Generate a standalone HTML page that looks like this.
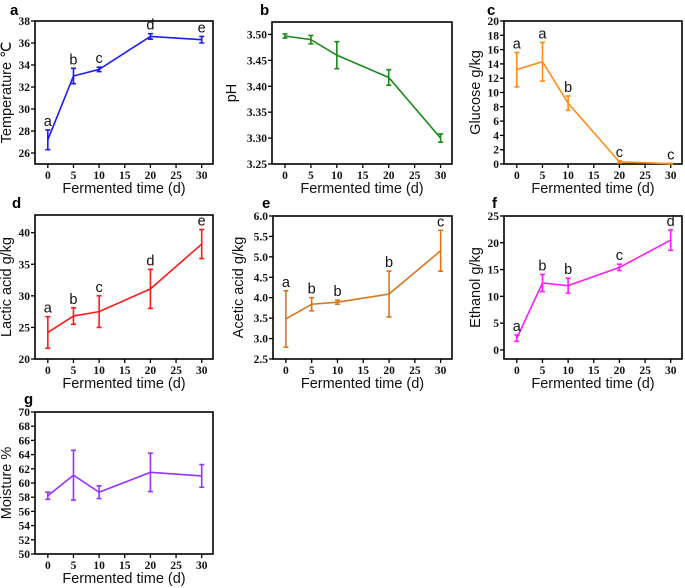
<!DOCTYPE html>
<html><head><meta charset="utf-8"><style>
body{margin:0;background:#fff}
svg{display:block}
</style></head><body>
<svg id="fig" width="685" height="588" viewBox="0 0 685 588"></svg>
<script>
const days=[0,5,10,20,30];
const xTicks=[0,5,10,15,20,25,30];
const tempVals=[27.2,33.0,33.6,36.6,36.3];
const tempErr=[0.9,0.7,0.2,0.25,0.3];
const tempLetters=["a","b","c","d","e"];
const tempTicks=[26,28,30,32,34,36,38];
const phVals=[3.497,3.490,3.460,3.417,3.300];
const phErr=[0.004,0.008,0.026,0.015,0.008];
const phTicks=["3.25","3.30","3.35","3.40","3.45","3.50"];
const gluVals=[13.2,14.3,8.5,0.3,0.05];
const gluErr=[2.4,2.7,1.0,0.15,0.05];
const gluLetters=["a","a","b","c","c"];
const gluTicks=[0,2,4,6,8,10,12,14,16,18,20];
const lacVals=[24.2,26.8,27.5,31.1,38.2];
const lacErr=[2.5,1.3,2.5,3.1,2.3];
const lacLetters=["a","b","c","d","e"];
const lacTicks=[20,25,30,35,40];
const aceVals=[3.48,3.84,3.89,4.09,5.15];
const aceErr=[0.69,0.16,0.05,0.56,0.5];
const aceLetters=["a","b","b","b","c"];
const aceTicks=["2.5","3.0","3.5","4.0","4.5","5.0","5.5","6.0"];
const ethVals=[2.2,12.5,12.0,15.4,20.5];
const ethErr=[0.6,1.6,1.4,0.6,1.9];
const ethLetters=["a","b","b","c","d"];
const ethTicks=[0,5,10,15,20,25];
const moiVals=[58.2,61.1,58.7,61.5,61.0];
const moiErr=[0.5,3.5,0.9,2.7,1.6];
const moiTicks=[50,52,54,56,58,60,62,64,66,68,70];

const NS="http://www.w3.org/2000/svg";
const svg=document.getElementById('fig');
const TK={'font-family':'Liberation Serif, serif','font-weight':'bold','font-size':'11.5px',fill:'#111'};
const TT={'font-family':'Liberation Sans, sans-serif','font-size':'14.5px',fill:'#111'};
function mk(tag,attrs,parent,text,style){const e=document.createElementNS(NS,tag);for(const k in attrs)e.setAttribute(k,attrs[k]);if(style)for(const k in style)e.setAttribute(k,style[k]);if(text!==undefined)e.textContent=text;(parent||svg).appendChild(e);return e;}

function panel(o){
  const g=mk('g',{});
  
  
  const x=v=>o.L+(v+2.5)/34.7*(o.R-o.L);
  const y=v=>o.B-(v-o.y0)/(o.y1-o.y0)*(o.B-o.T);
  const box=mk('rect',{x:o.L,y:o.T,width:o.R-o.L,height:o.B-o.T,fill:'none',stroke:'#000','stroke-width':1.6},g);
  
  
  xTicks.forEach(t=>{
    mk('line',{x1:x(t),x2:x(t),y1:o.B,y2:o.B+4,stroke:'#000','stroke-width':1.3},g);
    const tl=mk('text',{x:x(t),y:o.B+15,'text-anchor':'middle'},g,String(t),TK);
    
    
  });
  o.ticks.forEach(t=>{
    const v=parseFloat(t);
    mk('line',{x1:o.L-4,x2:o.L,y1:y(v),y2:y(v),stroke:'#000','stroke-width':1.3},g);
    const tl=mk('text',{x:o.L-5,y:y(v)+4,'text-anchor':'end'},g,String(t),TK);
    
    
  });
  const xt=mk('text',{x:(o.L+o.R)/2,y:o.B+29,'text-anchor':'middle'},g,'Fermented time (d)',TT);
  
  
  const cy=(o.T+o.B)/2, cx=o.L-o.yoff;
  const yt=mk('text',{x:cx,y:cy,'text-anchor':'middle',transform:`rotate(-90 ${cx} ${cy})`},g,o.ytitle,TT);
  
  
  const pl=mk('text',{x:o.px,y:o.py},g,o.letter,{'font-family':'Liberation Sans, sans-serif','font-weight':'bold','font-size':'15px',fill:'#000'});
  
  
  const line=mk('polyline',{points:days.map((d,i)=>x(d)+','+y(o.vals[i])).join(' '),fill:'none',stroke:o.color,'stroke-width':1.6},g);
  
  
  days.forEach((d,i)=>{
    const v=o.vals[i],e=o.err[i],xx=x(d);
    const eb=mk('path',{d:`M${xx},${y(v-e)}V${y(v+e)}M${xx-2.5},${y(v-e)}H${xx+2.5}M${xx-2.5},${y(v+e)}H${xx+2.5}`,stroke:o.color,'stroke-width':1.6,fill:'none'},g);
    
    
    if(o.letters){
      const lt=mk('text',{x:xx,y:y(v+e)-4,'text-anchor':'middle'},g,o.letters[i],{'font-family':'Liberation Sans, sans-serif','font-size':'14.5px',fill:'#111'});
      
      
    }
  });
}
panel({name:'temperature',L:35,R:213,T:21,B:164,y0:25,y1:38,ticks:tempTicks,vals:tempVals,err:tempErr,letters:tempLetters,color:'#1a1aff',ytitle:'Temperature ℃',yoff:24,letter:'a',px:10,py:15});
panel({name:'ph',L:272,R:452,T:22,B:164,y0:3.25,y1:3.524,ticks:phTicks,vals:phVals,err:phErr,letters:null,color:'#1a8a1a',ytitle:'pH',yoff:36,letter:'b',px:260,py:15});
panel({name:'glucose',L:504,R:682,T:21,B:164,y0:0,y1:20,ticks:gluTicks,vals:gluVals,err:gluErr,letters:gluLetters,color:'#ff8c1a',ytitle:'Glucose g/kg',yoff:24,letter:'c',px:487,py:15});
panel({name:'lactic-acid',L:35,R:213,T:215,B:359,y0:20,y1:42.8,ticks:lacTicks,vals:lacVals,err:lacErr,letters:lacLetters,color:'#ff1a1a',ytitle:'Lactic acid g/kg',yoff:24,letter:'d',px:12,py:208});
panel({name:'acetic-acid',L:273,R:452,T:216,B:359,y0:2.5,y1:6.0,ticks:aceTicks,vals:aceVals,err:aceErr,letters:aceLetters,color:'#d9761a',ytitle:'Acetic acid g/kg',yoff:30,letter:'e',px:262,py:208});
panel({name:'ethanol',L:504,R:682,T:216,B:359,y0:-1.7,y1:25,ticks:ethTicks,vals:ethVals,err:ethErr,letters:ethLetters,color:'#ff1aff',ytitle:'Ethanol g/kg',yoff:24,letter:'f',px:492,py:208});
panel({name:'moisture',L:35,R:213,T:412,B:554,y0:50,y1:70,ticks:moiTicks,vals:moiVals,err:moiErr,letters:null,color:'#9b30ff',ytitle:'Moisture %',yoff:24,letter:'g',px:24,py:404});
</script>
</body></html>
